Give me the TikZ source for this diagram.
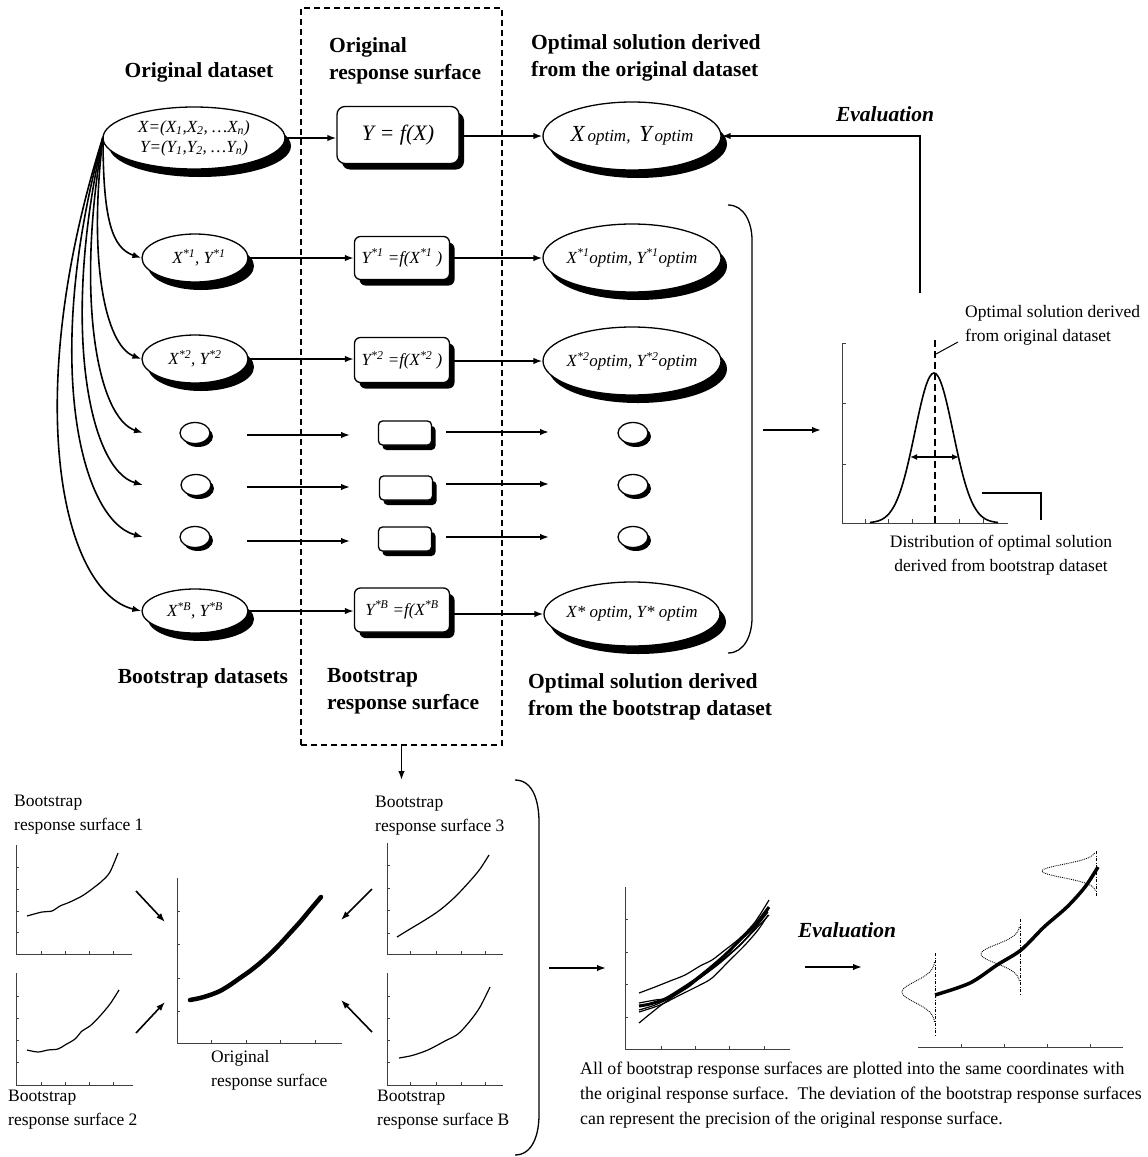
\documentclass[tikz,border=0pt]{standalone}
\usepackage{fontspec}
\setmainfont{Liberation Serif}
\usetikzlibrary{shapes.geometric,shadows,arrows.meta}
\newcommand\supst[1]{\textsuperscript{#1}}
\begin{document}
\begin{tikzpicture}[x=1pt,y=-1pt,
  conn/.style={line width=1.6pt,-{Latex[length=9pt,width=6.5pt]}},
  ell/.style={ellipse,draw,line width=1.3pt,fill=white,inner sep=0pt,drop shadow={shadow xshift=6pt,shadow yshift=-8pt,fill=black,opacity=1}},
  sell/.style={ellipse,draw,line width=1.3pt,fill=white,inner sep=0pt,minimum width=30pt,minimum height=21pt,drop shadow={shadow xshift=3pt,shadow yshift=-3.5pt,fill=black,opacity=1}},
  rbox/.style={rectangle,rounded corners=6pt,draw,line width=1.3pt,fill=white,inner sep=0pt,drop shadow={shadow xshift=5pt,shadow yshift=-6pt,fill=black,opacity=1}},
  sbox/.style={rectangle,rounded corners=4pt,draw,line width=1.3pt,fill=white,inner sep=0pt,minimum width=53pt,minimum height=24pt,drop shadow={shadow xshift=4pt,shadow yshift=-5pt,fill=black,opacity=1}},
  etxt/.style={font=\itshape\fontsize{17}{20}\selectfont,inner sep=0pt,align=center},
  hdr/.style={font=\bfseries\fontsize{21.5}{27}\selectfont,align=left,inner sep=0pt},
  evl/.style={font=\bfseries\itshape\fontsize{21.5}{27}\selectfont,inner sep=0pt},
  lbl/.style={font=\fontsize{17.5}{24}\selectfont,align=left,inner sep=0pt},
  ax/.style={line width=0.8pt,black!75},
  crv/.style={line width=1.2pt},
  dotd/.style={line width=0.9pt,densely dotted},
]
\useasboundingbox (0,0) rectangle (1148,1157);

% dashed box
\node[draw,dash pattern=on 6pt off 4pt,line width=1.2pt,minimum width=201pt,minimum height=737pt,inner sep=0pt] (dbox) at (401.5,376.5) {};

% headers
\node[hdr] (h1) at (199,72) {Original dataset};
\node[hdr,anchor=west] (h2) at (329,61) {Original\\response surface};
\node[hdr,anchor=west] (h3) at (531,58) {Optimal solution derived\\from the original dataset};
\node[evl] (ev1lbl) at (885,114) {Evaluation};
\node[hdr] (h4) at (203,678) {Bootstrap datasets};
\node[hdr,anchor=west] (h5) at (327,691) {Bootstrap\\response surface};
\node[hdr,anchor=west] (h6) at (528,697) {Optimal solution derived\\from the bootstrap dataset};

% original row
\node[ell,minimum width=182pt,minimum height=62pt,label={[etxt,font=\itshape\fontsize{17}{20}\selectfont]center:X=(X\textsubscript{1},X\textsubscript{2}, …X\textsubscript{n})\\Y=(Y\textsubscript{1},Y\textsubscript{2}, …Y\textsubscript{n})}] (orig) at (194,138) {};
\node[rbox,rounded corners=8pt,minimum width=122pt,minimum height=57pt,label={[etxt,font=\itshape\fontsize{22}{24}\selectfont]center:Y = f(X)}] (b0) at (398,135) {};
\node[ell,minimum width=178pt,minimum height=68pt,label={[etxt]center:{\fontsize{23}{23}\selectfont X}\,optim,\ \ {\fontsize{23}{23}\selectfont Y}\,optim}] (o0) at (632,136) {};

% row 1
\node[ell,minimum width=106pt,minimum height=48pt,label={[etxt]center:\hspace{8pt}X\supst{*1}, Y\supst{*1}}] (e1) at (195,258) {};
\node[rbox,minimum width=95pt,minimum height=43pt,label={[etxt]center:Y\supst{*1} =f(X\supst{*1} )}] (b1) at (402,258) {};
\node[ell,minimum width=178pt,minimum height=68pt,label={[etxt]center:X\supst{*1}optim, Y\supst{*1}optim}] (o1) at (632,258) {};

% row 2
\node[ell,minimum width=106pt,minimum height=48pt,label={[etxt]center:X\supst{*2}, Y\supst{*2}}] (e2) at (195,359) {};
\node[rbox,minimum width=95pt,minimum height=45pt,label={[etxt]center:Y\supst{*2} =f(X\supst{*2} )}] (b2) at (402,360) {};
\node[ell,minimum width=178pt,minimum height=68pt,label={[etxt]center:X\supst{*2}optim, Y\supst{*2}optim}] (o2) at (632,361) {};

% small rows
\node[sell] (s1) at (195,433) {};
\node[sell] (s2) at (196,485) {};
\node[sell] (s3) at (195,537) {};
\node[sbox] (sb1) at (405,433) {};
\node[sbox] (sb2) at (406,488) {};
\node[sbox] (sb3) at (405,539) {};
\node[sell] (so1) at (633,433) {};
\node[sell] (so2) at (633,485) {};
\node[sell] (so3) at (633,537) {};
\coordinate (a1s) at (247,435); \coordinate (a1e) at (350,435);
\coordinate (a2s) at (247,487); \coordinate (a2e) at (350,487);
\coordinate (a3s) at (247,541); \coordinate (a3e) at (350,541);
\coordinate (c1s) at (446,432); \coordinate (c1e) at (549,432);
\coordinate (c2s) at (446,484); \coordinate (c2e) at (549,484);
\coordinate (c3s) at (446,537); \coordinate (c3e) at (549,537);
\foreach \p in {a1,a2,a3,c1,c2,c3} \draw[conn] (\p s) -- (\p e);

% row B
\node[ell,minimum width=106pt,minimum height=44pt,label={[etxt]center:X\supst{*B}, Y\supst{*B}}] (eB) at (195,611) {};
\node[rbox,minimum width=95pt,minimum height=44pt,label={[etxt]center:Y\supst{*B} =f(X\supst{*B}}] (bB) at (402,610) {};
\node[ell,minimum width=176pt,minimum height=64pt,label={[etxt]center:X* optim, Y* optim}] (oB) at (632,614) {};

% horizontal connectors
\draw[conn] (orig.east) -- (orig.east -| b0.west);
\draw[conn] (b0.east |- o0.west) -- (o0.west);
\foreach \r in {1,2,B} {
  \draw[conn] (e\r.east) -- (e\r.east -| b\r.west);
  \draw[conn] (b\r.east |- o\r.west) -- (o\r.west);
}

% fan curves
\coordinate (fan) at (103,137);
\draw[conn] (fan) .. controls (103,220) and (112,248) .. (e1.west);
\draw[conn] (fan) .. controls (88,260) and (105,345) .. (e2.west);
\coordinate (t1) at (143,433); \coordinate (t2) at (143,485); \coordinate (t3) at (143,537);
\draw[conn] (fan) .. controls (75,300) and (98,418) .. (t1);
\draw[conn] (fan) .. controls (60,330) and (90,470) .. (t2);
\draw[conn] (fan) .. controls (42,360) and (80,520) .. (t3);
\draw[conn] (fan) .. controls (20,400) and (62,592) .. (eB.west);

% right bracket and evaluation
\draw[line width=1.3pt] (728,205) to[out=0,in=90] (752,240) -- (752,618) to[out=-90,in=0] (728,653);
\coordinate (br1) at (763,430); \coordinate (br2) at (821,430);
\draw[conn] (br1) -- (br2);
\coordinate (evs) at (920,293);
\draw[conn] (evs) |- (o0.east);

% distribution plot
\draw[ax] (842,343) -- (842,523) -- (1008,523);
\foreach \y in {343,403,464} \draw[ax] (842,\y) -- (846,\y);
\foreach \x in {865,888,912,935,959,983} \draw[ax] (\x,523) -- (\x,519);
\draw[line width=1.6pt] plot[domain=-64:64,samples=61,smooth] ({934+\x},{523-150*exp(0-(\x)*(\x)/730)});
\draw[line width=1.8pt,dash pattern=on 7pt off 4pt] (935,340) -- (935,523);
\draw[line width=1.5pt,{Latex[length=7pt,width=6pt]}-{Latex[length=7pt,width=6pt]}] (910,457) -- (959,457);
\draw[line width=1pt] (936,354) -- (958,342);
\draw[line width=1.2pt] (982,493) -- (1041,493) -- (1041,520);
\node[lbl,anchor=west] (dl1) at (965,325) {Optimal solution derived\\from original dataset};
\node[lbl,align=center] (dl2) at (1001,555) {Distribution of optimal solution\\derived from bootstrap dataset};

% arrow down from dashed box
\coordinate (dbe) at (401.5,780);
\draw[conn] (dbox.south) -- (dbe);

% bottom bracket
\draw[line width=1.3pt] (515,780) to[out=0,in=90] (539,822) -- (539,1115) to[out=-90,in=0] (515,1155);

% plot 1
\draw[ax] (16,845) -- (16,954) -- (132,954);
\foreach \y in {867,889,911,932} \draw[ax] (16,\y) -- (19,\y);
\foreach \x in {41,65,89,113} \draw[ax] (\x,954) -- (\x,951);
\draw[crv] plot[smooth] coordinates {(27,916) (42,912) (52,911) (60,906) (70,902) (82,896) (92,889) (102,881) (110,872) (118,853)};
\node[lbl,anchor=west] (l1) at (14,815) {Bootstrap\\response surface 1};
% plot 2
\draw[ax] (16,973) -- (16,1085) -- (133,1085);
\foreach \y in {996,1018,1040,1062} \draw[ax] (16,\y) -- (19,\y);
\foreach \x in {41,65,89,113} \draw[ax] (\x,1085) -- (\x,1082);
\draw[crv] plot[smooth] coordinates {(27,1050) (38,1052) (48,1050) (58,1049) (65,1045) (75,1039) (82,1031) (90,1026) (100,1016) (110,1004) (119,990)};
\node[lbl,anchor=west] (l2) at (8,1110) {Bootstrap\\response surface 2};
% central plot
\draw[ax] (177,878) -- (177,1043) -- (342,1043);
\foreach \y in {911,944,978,1011} \draw[ax] (177,\y) -- (180,\y);
\foreach \x in {211,246,280,315} \draw[ax] (\x,1043) -- (\x,1040);
\draw[line width=4.5pt,line cap=round] plot[smooth] coordinates {(190,1000) (200,998) (210,995) (220,991) (230,985) (240,978) (250,971) (260,963) (270,954) (280,944) (290,933) (300,922) (310,910) (321,897)};
\node[lbl,anchor=west] (lc) at (211,1070) {Original\\response surface};
% plot 3
\draw[ax] (387,843) -- (387,954) -- (503,954);
\foreach \y in {865,888,910,933} \draw[ax] (387,\y) -- (390,\y);
\foreach \x in {410,436,461,485} \draw[ax] (\x,954) -- (\x,951);
\draw[crv] plot[smooth] coordinates {(397,937) (410,929) (425,920) (440,910) (455,897) (470,881) (480,869) (489,855)};
\node[lbl,anchor=west] (l3) at (375,816) {Bootstrap\\response surface 3};
% plot B
\draw[ax] (387,973) -- (387,1085) -- (503,1085);
\foreach \y in {996,1018,1040,1062} \draw[ax] (387,\y) -- (390,\y);
\foreach \x in {410,436,461,485} \draw[ax] (\x,1085) -- (\x,1082);
\draw[crv] plot[smooth] coordinates {(399,1058) (410,1056) (420,1053) (430,1049) (445,1041) (458,1034) (470,1021) (480,1007) (490,987)};
\node[lbl,anchor=west] (lB) at (377,1110) {Bootstrap\\response surface B};

% arrows to central plot
\coordinate (p1a) at (136,891); \coordinate (p1b) at (165,922);
\coordinate (p2a) at (136,1033); \coordinate (p2b) at (165,1002);
\coordinate (p3a) at (372,889); \coordinate (p3b) at (341,920);
\coordinate (p4a) at (372,1032); \coordinate (p4b) at (341,1000);
\foreach \p in {p1,p2,p3,p4} \draw[conn] (\p a) -- (\p b);

% arrow to combined plot
\coordinate (q1a) at (549,968); \coordinate (q1b) at (606,968);
\draw[conn] (q1a) -- (q1b);
% combined plot
\draw[ax] (625,887) -- (625,1049) -- (790,1049);
\foreach \y in {919,952,984,1017} \draw[ax] (625,\y) -- (628,\y);
\foreach \x in {661,695,729,764} \draw[ax] (\x,1049) -- (\x,1046);
\draw[crv] plot[smooth] coordinates {(639,993) (655,987) (670,981) (685,975) (700,966) (712,960) (725,950) (740,938) (755,922) (769,900)};
\draw[crv] plot[smooth] coordinates {(639,1003) (655,1000) (668,998) (685,988) (700,978) (720,963) (740,945) (755,928) (768,910)};
\draw[crv] plot[smooth] coordinates {(639,1010) (655,1005) (672,997) (690,986) (705,973) (722,960) (740,945) (756,927) (768,912)};
\draw[crv] plot[smooth] coordinates {(639,1012) (660,1005) (680,995) (700,985) (712,978) (728,962) (745,945) (758,930) (768,915)};
\draw[crv] plot[smooth] coordinates {(639,1023) (660,1006) (680,992) (700,978) (720,962) (740,945) (769,915)};
\draw[line width=3pt] plot[smooth] coordinates {(639,1006) (650,1004) (665,999) (680,990) (695,980) (710,968) (725,955) (740,940) (755,925) (769,907)};

% evaluation arrow
\node[evl] (ev2lbl) at (847,930) {Evaluation};
\coordinate (q2a) at (805,967); \coordinate (q2b) at (862,967);
\draw[conn] (q2a) -- (q2b);

% final plot
\draw[ax] (918,1047) -- (1123,1047);
\foreach \x in {961,1004,1047,1090} \draw[ax] (\x,1047) -- (\x,1044);
\draw[line width=0.8pt,dash pattern=on 3pt off 1.5pt on 1pt off 1.5pt] (935,953) -- (935,1037);
\draw[line width=0.8pt,dash pattern=on 3pt off 1.5pt on 1pt off 1.5pt] (1020,919) -- (1020,995);
\draw[line width=0.8pt,dash pattern=on 3pt off 1.5pt on 1pt off 1.5pt] (1096,851) -- (1096,897);
\draw[dotd] plot[domain=-30:30,samples=41,smooth] ({935-33*exp(0-(\x)*(\x)/220)},{992+\x});
\draw[dotd] plot[domain=-27:27,samples=41,smooth] ({1020-39*exp(0-(\x)*(\x)/180)},{954+\x});
\draw[dotd] plot[domain=-18:20,samples=41,smooth] ({1096-54*exp(0-(\x)*(\x)/90)},{871+\x});
\draw[line width=3.5pt] plot[smooth] coordinates {(935,995) (970,983) (997,965) (1021,950) (1044,927) (1067,907) (1085,887) (1098,867)};

\node[lbl,anchor=west,font=\fontsize{17.8}{25}\selectfont] (para) at (580,1095) {All of bootstrap response surfaces are plotted into the same coordinates with\\the original response surface.\ \ The deviation of the bootstrap response surfaces\\can represent the precision of the original response surface.};
\end{tikzpicture}
\end{document}
